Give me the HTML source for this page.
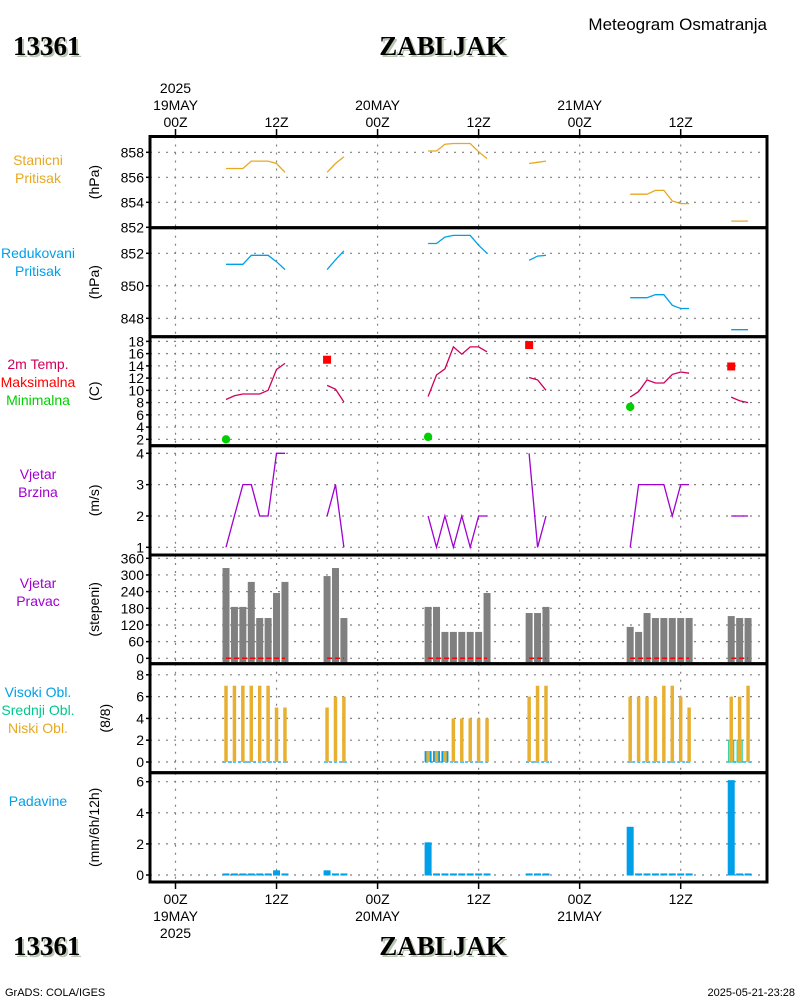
<!DOCTYPE html>
<html><head><meta charset="utf-8"><style>
html,body{margin:0;padding:0;background:#fff;}
svg{display:block;font-family:"Liberation Sans",sans-serif;}
.t{font-size:14px;fill:#000;}
.big{font-family:"Liberation Serif",serif;font-weight:bold;font-size:27px;}
</style></head><body>
<svg id="chart" width="800" height="1000" viewBox="0 0 800 1000" xmlns="http://www.w3.org/2000/svg">
<rect width="800" height="1000" fill="#fff"/>
<g>
<text x="15" y="57" class="big" fill="#b8c8b0">13361</text>
<text x="13" y="55" class="big" fill="#000">13361</text>
<text x="445" y="57" class="big" fill="#b8c8b0" text-anchor="middle">ZABLJAK</text>
<text x="443" y="55" class="big" fill="#000" text-anchor="middle">ZABLJAK</text>
<text x="767" y="30" class="t" font-size="17" text-anchor="end" style="font-size:17px">Meteogram Osmatranja</text>
<text x="15" y="957" class="big" fill="#b8c8b0">13361</text>
<text x="13" y="955" class="big" fill="#000">13361</text>
<text x="445" y="957" class="big" fill="#b8c8b0" text-anchor="middle">ZABLJAK</text>
<text x="443" y="955" class="big" fill="#000" text-anchor="middle">ZABLJAK</text>
<text x="5" y="996" style="font-size:11px">GrADS: COLA/IGES</text>
<text x="795" y="996" text-anchor="end" style="font-size:11px">2025-05-21-23:28</text>
</g>
<g id="grid"></g>
<g id="marks"></g>
<g id="axes"></g>
</svg>
<script>
// ---- data ----
const hours = [6,7,8,9,10,11,12,13, 18,19,20, 30,31,32,33,34,35,36,37, 42,43,44, 54,55,56,57,58,59,60,61, 66,67,68];
const stationPressure = [856.7,856.7,856.7,857.3,857.3,857.3,857.1,856.4, 856.4,857.1,857.65, 858.1,858.1,858.65,858.7,858.7,858.7,858.05,857.5, 857.1,857.2,857.3, 854.65,854.65,854.65,854.95,854.95,854.1,853.9,853.9, 852.5,852.5,852.5];
const reducedPressure = [851.32,851.32,851.32,851.88,851.88,851.88,851.48,851.0, 851.0,851.6,852.15, 852.6,852.6,853.0,853.1,853.1,853.1,852.5,852.0, 851.57,851.83,851.88, 849.27,849.27,849.27,849.45,849.45,848.8,848.6,848.6, 847.3,847.3,847.3];
const temperature = [8.5,9.1,9.4,9.4,9.4,10,13.4,14.4, 10.8,10.2,8.1, 9.0,12.5,13.5,17.1,15.9,17.1,17.1,16.3, 12.1,11.7,10.0, 8.9,9.8,11.7,11.2,11.2,12.6,13.0,12.8, 8.9,8.3,8.0];
const windSpeed = [1,2,3,3,2,2,4,4, 2,3,1, 2,1,2,1,2,1,2,2, 4,1,2, 1,3,3,3,3,2,3,3, 2,2,2];
const windDir = [325,185,185,275,145,145,235,275, 296,325,145, 185,185,95,95,95,95,95,235, 163,163,185, 113,95,163,145,145,145,145,145, 152,145,145];
const lowCloud = [7,7,7,7,7,7,5,5, 5,6,6, 1,1,1,4,4,4,4,4, 6,7,7, 6,6,6,6,7,7,6,5, 6,6,7];
const highCloud = [0,0,0,0,0,0,0,0, 0,0,0, 1,1,1,0,0,0,0,0, 0,0,0, 0,0,0,0,0,0,0,0, 0,0,0];
const midCloud = [0,0,0,0,0,0,0,0, 0,0,0, 0,0,0,0,0,0,0,0, 0,0,0, 0,0,0,0,0,0,0,0, 2,2,0];
const precip = [0.1,0.1,0.1,0.1,0.1,0.1,0.3,0.1, 0.3,0.1,0.1, 2.1,0.1,0.1,0.1,0.1,0.1,0.1,0.1, 0.1,0.1,0.1, 3.1,0.1,0.1,0.1,0.1,0.1,0.1,0.1, 6.1,0.1,0.1];
const maxHours = [18,42,66];
const maxTemp = [15,17.4,13.9];
const minHours = [6,30,54];
const minTemp = [2,2.4,7.3];
const timeTicks = [0,12,24,36,48,60];
const timeLabels = ["00Z","12Z","00Z","12Z","00Z","12Z"];
const dayLabels = ["19MAY","","20MAY","","21MAY",""];
const pTicks1 = [852,854,856,858];
const pTicks2 = [848,850,852];
const tTicks = [2,4,6,8,10,12,14,16,18];
const wsTicks = [1,2,3,4];
const wdTicks = [0,60,120,180,240,300,360];
const cTicks = [0,2,4,6,8];
const rTicks = [0,2,4,6];

// ---- geometry ----
const NS='http://www.w3.org/2000/svg';
const X0=150, X1=767;
const xOf = h => 175.5 + h*8.42;
const panels = [
 {name:'station-pressure',top:136.5,bot:227.7,y:v=>152.3-(v-858)*12.5,ticks:pTicks1,grid:[854,856,858],lab:[['Stanicni','#e8a820'],['Pritisak','#e8a820']],unit:'(hPa)',ly:165},
 {name:'reduced-pressure',top:227.7,bot:336.7,y:v=>253.3-(v-852)*16.25,ticks:pTicks2,grid:pTicks2,lab:[['Redukovani','#00a0e8'],['Pritisak','#00a0e8']],unit:'(hPa)',ly:258},
 {name:'temperature',top:336.7,bot:445.7,y:v=>439.3-(v-2)*6.12,ticks:tTicks,grid:tTicks,lab:[['2m Temp.','#d0005a'],['Maksimalna','#ff0000'],['Minimalna','#00d000']],unit:'(C)',ly:369},
 {name:'wind-speed',top:445.7,bot:555,y:v=>547.3-(v-1)*31.33,ticks:wsTicks,grid:wsTicks,lab:[['Vjetar','#a000d0'],['Brzina','#a000d0']],unit:'(m/s)',ly:479},
 {name:'wind-direction',top:555,bot:663.7,y:v=>658.3-v*0.2778,ticks:wdTicks,grid:wdTicks,lab:[['Vjetar','#a000d0'],['Pravac','#a000d0']],unit:'(stepeni)',ly:588},
 {name:'cloud-cover',top:663.7,bot:772.7,y:v=>762-v*10.9,ticks:cTicks,grid:cTicks,lab:[['Visoki Obl.','#00a0e8'],['Srednji Obl.','#00c88c'],['Niski Obl.','#e8a820']],unit:'(8/8)',ly:697},
 {name:'precipitation',top:772.7,bot:882,y:v=>875-v*15.55,ticks:rTicks,grid:rTicks,lab:[['Padavine','#00a0e8']],unit:'(mm/6h/12h)',ly:806}
];
const gGrid=document.getElementById('grid'), gMarks=document.getElementById('marks'), gAxes=document.getElementById('axes');
function el(tag,attrs,parent){const e=document.createElementNS(NS,tag);for(const k in attrs)e.setAttribute(k,attrs[k]);parent.appendChild(e);return e;}

// panels: grid, ticks, labels
panels.forEach(p=>{
  p.grid.forEach(v=>{
    const l=el('line',{x1:X0,x2:X1,y1:p.y(v),y2:p.y(v),stroke:'#808080','stroke-width':1.2,'stroke-dasharray':'2,6'},gGrid);
    
    
  });
  timeTicks.forEach(h=>{
    const l=el('line',{x1:xOf(h),x2:xOf(h),y1:p.top,y2:p.bot,stroke:'#808080','stroke-width':1.2,'stroke-dasharray':'2,6'},gGrid);
    
    
  });
  p.ticks.forEach(v=>{
    const yy=p.y(v);
    const t=el('line',{x1:X0-4,x2:X0,y1:yy,y2:yy,stroke:'#000','stroke-width':1.5},gAxes);
    
    
    const tx=el('text',{x:X0-6,y:yy+5,'text-anchor':'end',class:'t'},gAxes);
    tx.textContent=v;
    
    
  });
  p.lab.forEach((lb,i)=>{
    const tx=el('text',{x:38,y:p.ly+i*18,'text-anchor':'middle',fill:lb[1],style:'font-size:14px'},gAxes);
    tx.textContent=lb[0];
    
    
  });
  const cy=(p.top+p.bot)/2;
  const u=el('text',{x:0,y:0,'text-anchor':'middle',class:'t',transform:`translate(${p.name==='cloud-cover'?110:99},${cy}) rotate(-90)`},gAxes);
  u.textContent=p.unit;
  
  
  const r=el('rect',{x:X0,y:p.top,width:X1-X0,height:p.bot-p.top,fill:'none',stroke:'#000','stroke-width':3},gAxes);
  
  
});
// time axes
timeTicks.forEach((h,i)=>{
  const x=xOf(h);
  [[129,136.5],[882,889]].forEach(s=>{
    const t=el('line',{x1:x,x2:x,y1:s[0],y2:s[1],stroke:'#000','stroke-width':1.5},gAxes);
    
    
  });
  const a=el('text',{x:x,y:127,'text-anchor':'middle',class:'t'},gAxes);a.textContent=timeLabels[i];
  
  
  const b=el('text',{x:x,y:904,'text-anchor':'middle',class:'t'},gAxes);b.textContent=timeLabels[i];
  
  
  if(dayLabels[i]){
    const c=el('text',{x:x,y:110,'text-anchor':'middle',class:'t'},gAxes);c.textContent=dayLabels[i];
    
    
    const d=el('text',{x:x,y:921,'text-anchor':'middle',class:'t'},gAxes);d.textContent=dayLabels[i];
    
    
  }
});
const y1=el('text',{x:xOf(0),y:93,'text-anchor':'middle',class:'t'},gAxes);y1.textContent='2025';


const y2=el('text',{x:xOf(0),y:938,'text-anchor':'middle',class:'t'},gAxes);y2.textContent='2025';



// segments
function segments(){const segs=[];let cur=[];hours.forEach((h,i)=>{if(cur.length&&h-hours[cur[cur.length-1]]>1){segs.push(cur);cur=[];}cur.push(i);});if(cur.length)segs.push(cur);return segs;}
const segs=segments();
function drawLine(vals,p,color,name){
  segs.forEach(s=>{
    const pts=s.map(i=>xOf(hours[i]).toFixed(1)+','+p.y(vals[i]).toFixed(1)).join(' ');
    const pl=el('polyline',{points:pts,fill:'none',stroke:color,'stroke-width':1.3},gMarks);
    
    
  });
}
drawLine(stationPressure,panels[0],'#e8a820','station-pressure-line');
drawLine(reducedPressure,panels[1],'#00a0e8','reduced-pressure-line');
drawLine(temperature,panels[2],'#d0005a','temperature-line');
drawLine(windSpeed,panels[3],'#a000d0','wind-speed-line');
maxHours.forEach((h,i)=>{
  const r=el('rect',{x:xOf(h)-4,y:panels[2].y(maxTemp[i])-4,width:8,height:8,fill:'#ff0000'},gMarks);
  
  
});
minHours.forEach((h,i)=>{
  const c=el('circle',{cx:xOf(h),cy:panels[2].y(minTemp[i]),r:4.2,fill:'#00d000'},gMarks);
  
  
});
// wind direction bars
hours.forEach((h,i)=>{
  const p=panels[4], yy=p.y(windDir[i]);
  const r=el('rect',{x:xOf(h)-3.5,y:yy,width:7,height:p.bot-1.5-yy,fill:'#808080'},gMarks);
  
  
});
segs.forEach(s=>{
  const p=panels[4];
  const l=el('line',{x1:xOf(hours[s[0]]),x2:xOf(hours[s[s.length-1]]),y1:p.y(0),y2:p.y(0),stroke:'#ff0000','stroke-width':1.5,'stroke-dasharray':'5,3'},gMarks);
  
  
  const p6=panels[5];
  const l2=el('line',{x1:xOf(hours[s[0]])-3,x2:xOf(hours[s[s.length-1]])+3,y1:p6.y(0),y2:p6.y(0),stroke:'#00a0e8','stroke-width':1.2,'stroke-dasharray':'3,2'},gMarks);
  
  
});
// clouds
hours.forEach((h,i)=>{
  const p=panels[5], x=xOf(h), b=p.y(0);
  if(highCloud[i]>0){
    const r=el('rect',{x:x-3.5,y:p.y(highCloud[i]),width:7,height:b-p.y(highCloud[i]),fill:'#00a0e8'},gMarks);
    
    
  }
  if(midCloud[i]>0){
    const r=el('rect',{x:x-2.5,y:p.y(midCloud[i]),width:5,height:b-p.y(midCloud[i]),fill:'none',stroke:'#00c88c','stroke-width':1},gMarks);
    
    
  }
  const r=el('rect',{x:x-1.75,y:p.y(lowCloud[i]),width:3.5,height:b-p.y(lowCloud[i]),fill:'#e8b030'},gMarks);
  
  
});
// precipitation
hours.forEach((h,i)=>{
  const p=panels[6], yy=p.y(precip[i]);
  const r=el('rect',{x:xOf(h)-3.5,y:yy,width:7,height:p.y(0)-yy+0.5,fill:'#00a0e8'},gMarks);
  
  
});
</script>
</body></html>
